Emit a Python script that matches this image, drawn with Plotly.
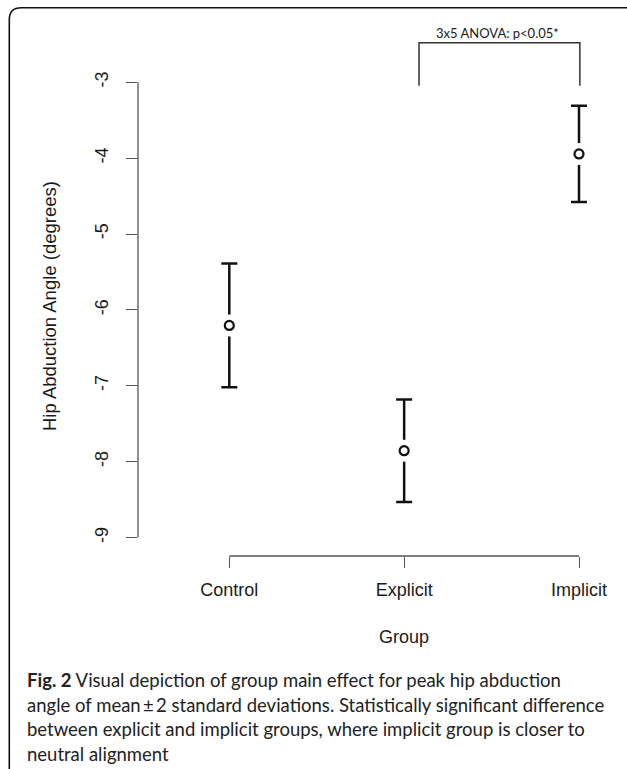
import plotly.graph_objects as go

# ---- data ----
groups = ["Control", "Explicit", "Implicit"]
group_pos = [1, 2, 3]
means = [-6.205, -7.855, -3.945]
two_sd = [0.815, 0.675, 0.635]
y_ticks = [-3, -4, -5, -6, -7, -8, -9]
y_tick_labels = ["-3", "-4", "-5", "-6", "-7", "-8", "-9"]
stat_label = "3x5 ANOVA: p<0.05*"
bracket_x = [2.085, 3.005]
bracket_y = [-3.046, -2.48]
caption_lines = [
    "<b>Fig. 2</b> Visual depiction of group main effect for peak hip abduction",
    "angle of mean\u2009\u00b1\u20092 standard deviations. Statistically significant difference",
    "between explicit and implicit groups, where implicit group is closer to",
    "neutral alignment",
]

W, H = 627, 769
L, R, T, B = 138, 7, 20, 213
PW, PH = W - L - R, H - T - B


def xp(px):
    return (px - L) / PW


def yp(py):
    return (H - B - py) / PH


AX_FONT = "Liberation Sans, Arial, sans-serif"
CAP_FONT = "Lato, Open Sans, sans-serif"
AXIS_COL = "#555555"
TXT_COL = "#1a1a1a"

fig = go.Figure()

# error bars with white mask around point
fig.add_trace(go.Scatter(
    x=group_pos, y=means, mode="markers",
    marker=dict(size=22, color="white", line=dict(width=0)),
    error_y=dict(type="data", array=two_sd, symmetric=True,
                 color="#111111", thickness=2.5, width=8),
    hoverinfo="skip", showlegend=False,
))
fig.add_trace(go.Scatter(
    x=group_pos, y=means, mode="markers",
    marker=dict(size=9, color="white", symbol="circle",
                line=dict(width=2.2, color="#111111")),
    showlegend=False,
))

shapes = []
# y axis line (from -3 to -9)
shapes.append(dict(type="line", xref="paper", yref="y", x0=0, x1=0,
                   y0=y_ticks[0], y1=y_ticks[-1],
                   line=dict(color=AXIS_COL, width=1.3)))
# x axis line
shapes.append(dict(type="line", xref="x", yref="paper", x0=group_pos[0], x1=group_pos[-1],
                   y0=0, y1=0, line=dict(color=AXIS_COL, width=1.3)))
# significance bracket
shapes.append(dict(type="path", xref="x", yref="y",
                   path=f"M {bracket_x[0]},{bracket_y[0]} L {bracket_x[0]},{bracket_y[1]} "
                        f"L {bracket_x[1]},{bracket_y[1]} L {bracket_x[1]},{bracket_y[0]}",
                   line=dict(color="#333333", width=1.5)))
# rounded frame
fl, ft, fr, fb, rad = 9.3, 7.8, 640, 780, 12
frame_path = (f"M {xp(fl)},{yp(fb)} L {xp(fl)},{yp(ft + rad)} "
              f"Q {xp(fl)},{yp(ft)} {xp(fl + rad)},{yp(ft)} L {xp(fr)},{yp(ft)}")
shapes.append(dict(type="path", xref="paper", yref="paper", path=frame_path,
                   line=dict(color="#111111", width=1.6)))

annotations = []
annotations.append(dict(x=2.531, y=-2.356, xref="x", yref="y", text=stat_label,
                        showarrow=False, xanchor="center", yanchor="middle",
                        font=dict(family=CAP_FONT, size=13, color=TXT_COL)))
annotations.append(dict(x=xp(50), y=yp(306), xref="paper", yref="paper",
                        text="Hip Abduction Angle (degrees)", textangle=-90, showarrow=False,
                        xanchor="center", yanchor="middle",
                        font=dict(family=AX_FONT, size=18.5, color=TXT_COL)))
annotations.append(dict(x=xp(404), y=yp(637), xref="paper", yref="paper",
                        text="Group", showarrow=False, xanchor="center", yanchor="middle",
                        font=dict(family=AX_FONT, size=18, color=TXT_COL)))
for i, line in enumerate(caption_lines):
    annotations.append(dict(x=xp(25), y=yp(680 + 24.5 * i), xref="paper", yref="paper",
                            text=line, showarrow=False, xanchor="left", yanchor="middle",
                            font=dict(family=CAP_FONT, size=18.5, color="#222222")))

fig.update_layout(
    width=W, height=H,
    margin=dict(l=L, r=R, t=T, b=B, pad=0),
    paper_bgcolor="white", plot_bgcolor="white",
    shapes=shapes, annotations=annotations,
    xaxis=dict(range=[0.4778, 3.2345], tickvals=group_pos, ticktext=groups,
               ticks="outside", ticklen=11, tickwidth=1.3, tickcolor=AXIS_COL,
               showgrid=False, zeroline=False, showline=False,
               tickfont=dict(family=AX_FONT, size=18, color=TXT_COL),
               ticklabelstandoff=6),
    yaxis=dict(range=[-9.2424, -2.1805], tickvals=y_ticks, ticktext=y_tick_labels,
               ticks="outside", ticklen=11.5, tickwidth=1.3, tickcolor=AXIS_COL,
               showgrid=False, zeroline=False, showline=False, tickangle=-90,
               tickfont=dict(family=AX_FONT, size=18, color=TXT_COL),
               ticklabelstandoff=10),
)

fig.write_html("out.html", config={"displayModeBar": False},
               post_script="document.body.style.margin='0';")
